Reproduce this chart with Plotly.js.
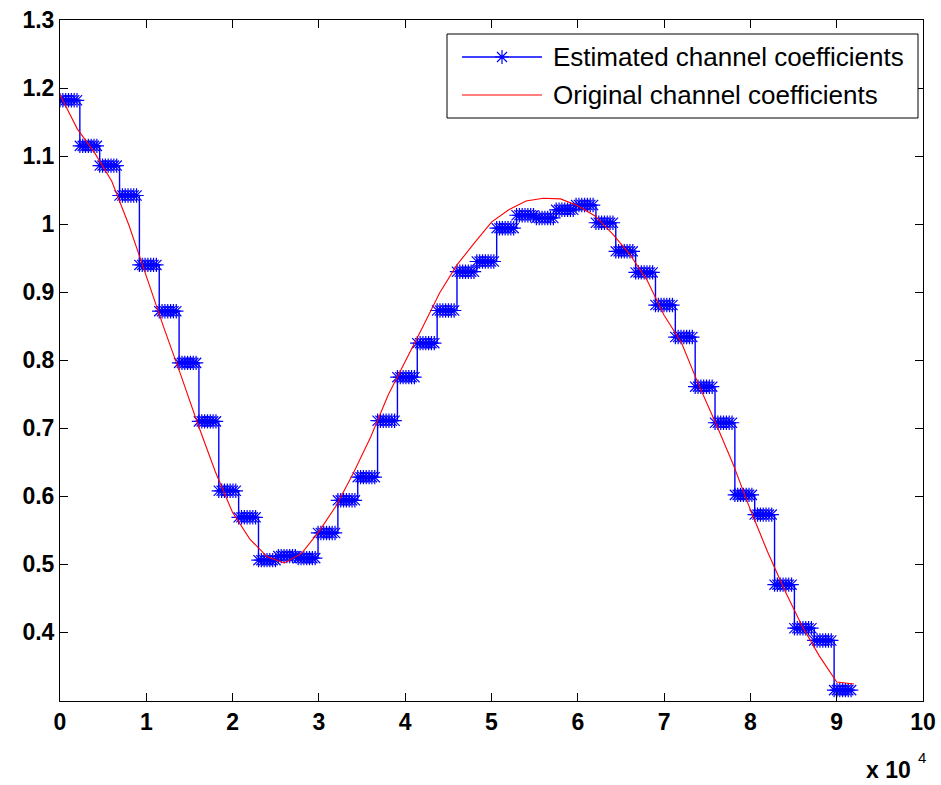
<!DOCTYPE html>
<html>
<head>
<meta charset="utf-8">
<script src="https://cdn.plot.ly/plotly-3.0.1.min.js"></script>
<style>
  html, body { margin: 0; padding: 0; background: #fff; }
  #chart { width: 941px; height: 785px; }
</style>
</head>
<body>
<div id="chart"></div>
<script>
// Estimated channel coefficient: one held value per block of samples
const blockLength = 2300;          // samples per estimation block
const marksPerBlock = 7;           // plotted samples inside each block
const estimatedValues = [
  1.182, 1.115, 1.086, 1.042, 0.940, 0.872, 0.796, 0.710, 0.608, 0.569,
  0.506, 0.512, 0.509, 0.546, 0.594, 0.628, 0.711, 0.775, 0.825, 0.873,
  0.930, 0.945, 0.994, 1.013, 1.009, 1.021, 1.028, 1.002, 0.960, 0.929,
  0.881, 0.834, 0.761, 0.708, 0.602, 0.573, 0.470, 0.406, 0.388, 0.315
];

// Original (true) channel coefficient, sampled every 2000 samples
const originalStep = 2000;
const originalValues = [
  1.190, 1.140, 1.105, 1.063, 0.998, 0.922, 0.849, 0.778, 0.705, 0.636,
  0.576, 0.537, 0.511, 0.502, 0.516, 0.548, 0.586, 0.634, 0.687, 0.748,
  0.797, 0.848, 0.899, 0.940, 0.972, 1.003, 1.021, 1.034, 1.038, 1.037,
  1.027, 1.012, 0.986, 0.956, 0.918, 0.866, 0.826, 0.764, 0.707, 0.647,
  0.580, 0.518, 0.461, 0.409, 0.365, 0.327, 0.324
];

// Axis ticks (x shown in units of 10^4 samples)
const xTickVals = [0, 10000, 20000, 30000, 40000, 50000, 60000, 70000, 80000, 90000, 100000];
const xTickText = ['0', '1', '2', '3', '4', '5', '6', '7', '8', '9', '10'];
const yTickVals = [0.4, 0.5, 0.6, 0.7, 0.8, 0.9, 1.0, 1.1, 1.2, 1.3];
const yTickText = ['0.4', '0.5', '0.6', '0.7', '0.8', '0.9', '1', '1.1', '1.2', '1.3'];

const legendNames = ['Estimated channel coefficients', 'Original channel coefficients'];

// Build the sample positions for both series
const estX = [], estY = [];
estimatedValues.forEach((v, k) => {
  for (let j = 0; j < marksPerBlock; j++) {
    estX.push(k * blockLength + j * blockLength / marksPerBlock);
    estY.push(v);
  }
});
const origX = originalValues.map((_, i) => i * originalStep);

const traces = [
  {
    x: estX, y: estY, name: legendNames[0],
    type: 'scatter', mode: 'lines+markers',
    line: { color: '#0000ff', width: 1.4, shape: 'hv' },
    marker: { symbol: 'asterisk-open', size: 12, color: '#0000ff',
              line: { color: '#0000ff', width: 1.2 } },
    showlegend: false
  },
  {
    x: origX, y: originalValues, name: legendNames[1],
    type: 'scatter', mode: 'lines',
    line: { color: '#ff0000', width: 1.1 },
    showlegend: false
  }
];

// Plot-area geometry in pixels, used to place the boxed key
const W = 941, H = 785;
const M = { l: 60, r: 18, t: 20, b: 84 };
const plotW = W - M.l - M.r, plotH = H - M.t - M.b;
const px = x => (x - M.l) / plotW;
const py = y => (H - M.b - y) / plotH;

const keyBox = { x0: 447, x1: 918, y0: 34, y1: 118 };
const keyRows = [57, 95];
const keyLine = { x0: 462, x1: 542 };
const keyText = 551;

const shapes = [
  { type: 'rect', xref: 'paper', yref: 'paper', layer: 'above',
    x0: px(keyBox.x0), x1: px(keyBox.x1), y0: py(keyBox.y0), y1: py(keyBox.y1),
    line: { color: '#000', width: 1 }, fillcolor: '#fff' },
  { type: 'line', xref: 'paper', yref: 'paper', layer: 'above',
    x0: px(keyLine.x0), x1: px(keyLine.x1), y0: py(keyRows[0]), y1: py(keyRows[0]),
    line: { color: '#0000ff', width: 1.4 } },
  { type: 'path', xref: 'paper', yref: 'paper', layer: 'above',
    xsizemode: 'pixel', ysizemode: 'pixel',
    xanchor: px((keyLine.x0 + keyLine.x1) / 2), yanchor: py(keyRows[0]),
    path: 'M-7,0H7M0,-7V7M-5,-5L5,5M-5,5L5,-5',
    line: { color: '#0000ff', width: 1.2 } },
  { type: 'line', xref: 'paper', yref: 'paper', layer: 'above',
    x0: px(keyLine.x0), x1: px(keyLine.x1), y0: py(keyRows[1]), y1: py(keyRows[1]),
    line: { color: '#ff0000', width: 1.1 } }
];

const keyFont = { family: 'Liberation Sans, Arial, sans-serif', size: 26, color: '#000' };
const annotations = [
  { xref: 'paper', yref: 'paper', x: px(keyText), y: py(keyRows[0]),
    xanchor: 'left', yanchor: 'middle', showarrow: false,
    text: legendNames[0], font: keyFont },
  { xref: 'paper', yref: 'paper', x: px(keyText), y: py(keyRows[1]),
    xanchor: 'left', yanchor: 'middle', showarrow: false,
    text: legendNames[1], font: keyFont },
  { xref: 'paper', yref: 'paper', x: px(913), y: py(770),
    xanchor: 'right', yanchor: 'middle', showarrow: false,
    text: 'x 10',
    font: { family: 'Liberation Sans, Arial, sans-serif', size: 23, color: '#000', weight: 'bold' } },
  { xref: 'paper', yref: 'paper', x: px(916), y: py(757),
    xanchor: 'left', yanchor: 'middle', showarrow: false,
    text: '4',
    font: { family: 'Liberation Sans, Arial, sans-serif', size: 15, color: '#000' } }
];

const tickFont = { family: 'Liberation Sans, Arial, sans-serif', size: 23, color: '#000', weight: 'bold' };
const axisCommon = {
  showgrid: false, zeroline: false, showline: true, mirror: 'ticks',
  linecolor: '#000', linewidth: 1,
  ticks: 'inside', ticklen: 8, tickwidth: 1, tickcolor: '#000',
  tickfont: tickFont, tickmode: 'array'
};

const layout = {
  width: W, height: H,
  margin: M,
  paper_bgcolor: '#fff', plot_bgcolor: '#fff',
  showlegend: false,
  xaxis: Object.assign({}, axisCommon, {
    range: [0, 100000], tickvals: xTickVals, ticktext: xTickText
  }),
  yaxis: Object.assign({}, axisCommon, {
    range: [0.299, 1.3], tickvals: yTickVals, ticktext: yTickText
  }),
  shapes: shapes,
  annotations: annotations
};

Plotly.newPlot('chart', traces, layout, { staticPlot: true, displayModeBar: false });
</script>
</body>
</html>
